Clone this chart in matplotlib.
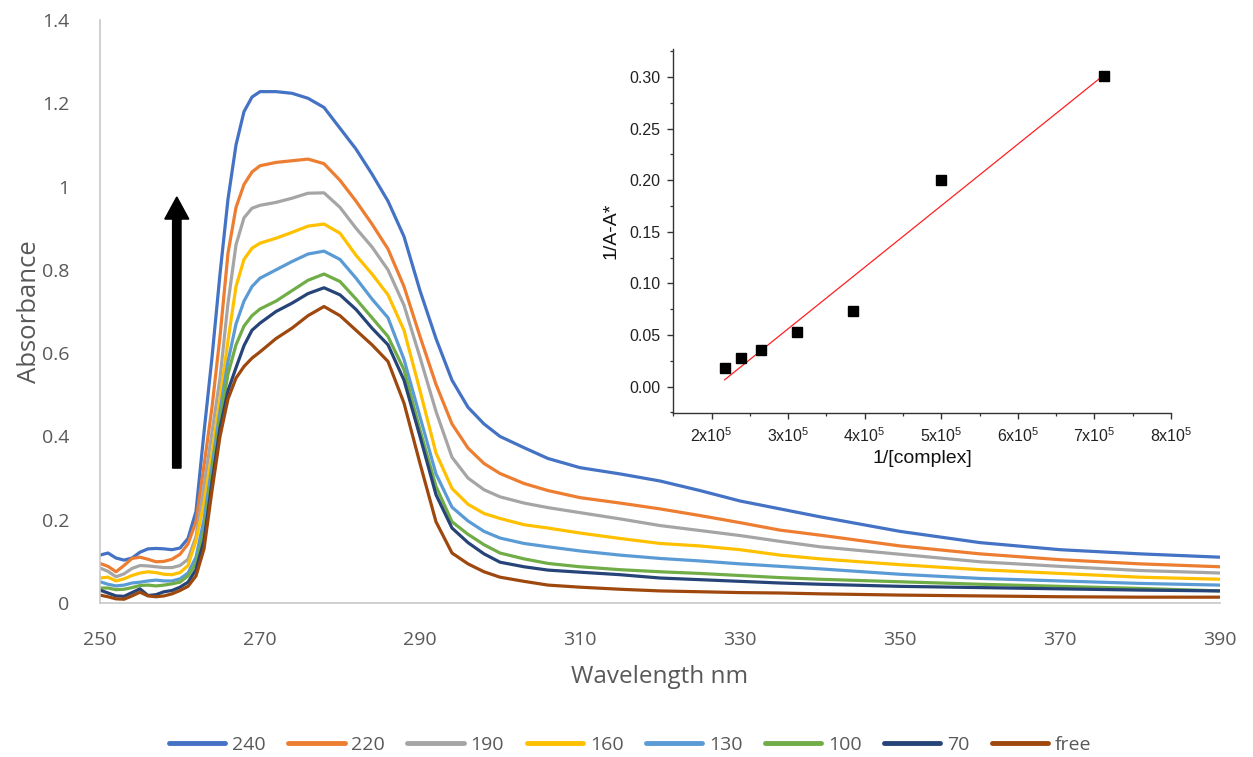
import numpy as np
import matplotlib
matplotlib.use("Agg")
import matplotlib.pyplot as plt
from matplotlib.ticker import MultipleLocator, FixedLocator

plt.rcParams['mathtext.fontset'] = 'custom'
plt.rcParams['mathtext.rm'] = 'Liberation Sans'
plt.rcParams['mathtext.it'] = 'Liberation Sans:italic'

# ---------------- main spectra data ----------------
wavelength = [250, 251, 252, 253, 254, 255, 256, 257, 258, 259, 260, 261, 262, 263, 264, 265, 266, 267,
              268, 269, 270, 272, 274, 276, 278, 280, 282, 284, 286, 288, 290, 292, 294, 296, 298, 300,
              303, 306, 310, 315, 320, 325, 330, 335, 340, 350, 360, 370, 380, 390]

abs_240 = [.115, .12, .108, .103, .108, .122, .13, .131, .13, .128, .132, .155, .22, .41, .59, .79, .97, 1.10,
           1.18, 1.215, 1.228, 1.228, 1.224, 1.212, 1.19, 1.14, 1.09, 1.03, .965, .88, .75, .635, .535, .47, .43, .40,
           .373, .347, .325, .31, .293, .27, .245, .226, .207, .172, .145, .128, .118, .11]
abs_220 = [.095, .088, .075, .09, .107, .11, .105, .099, .10, .105, .117, .142, .195, .33, .47, .64, .84, .95,
           1.005, 1.035, 1.05, 1.058, 1.062, 1.066, 1.055, 1.015, .965, .91, .85, .76, .64, .525, .43, .372, .335, .311,
           .287, .27, .253, .24, .226, .21, .193, .175, .163, .137, .118, .104, .094, .087]
abs_190 = [.084, .076, .063, .07, .083, .09, .089, .087, .085, .085, .09, .105, .16, .28, .41, .54, .72, .86,
           .925, .948, .955, .962, .972, .984, .985, .95, .90, .855, .80, .715, .59, .46, .35, .30, .272, .255,
           .24, .229, .217, .202, .186, .174, .162, .148, .135, .117, .099, .088, .078, .072]
abs_160 = [.06, .062, .053, .058, .066, .072, .075, .073, .069, .068, .073, .09, .15, .24, .36, .49, .63, .76,
           .825, .852, .864, .876, .89, .905, .91, .888, .835, .79, .74, .655, .51, .36, .275, .237, .215, .203,
           .188, .18, .168, .155, .143, .137, .128, .115, .106, .092, .08, .071, .062, .057]
abs_130 = [.051, .045, .041, .043, .048, .05, .053, .055, .053, .053, .058, .072, .11, .20, .33, .46, .58, .67,
           .725, .76, .78, .80, .82, .838, .845, .825, .78, .73, .685, .585, .447, .31, .23, .197, .172, .156,
           .143, .135, .125, .115, .107, .101, .094, .088, .082, .069, .059, .053, .047, .043]
abs_100 = [.036, .036, .032, .033, .037, .042, .043, .041, .043, .046, .05, .065, .095, .17, .31, .44, .55, .62,
           .665, .69, .706, .725, .75, .775, .79, .772, .73, .685, .64, .56, .415, .28, .195, .165, .14, .12,
           .106, .095, .087, .08, .075, .071, .066, .061, .057, .051, .045, .04, .035, .029]
abs_70 = [.031, .024, .017, .016, .025, .034, .018, .02, .027, .03, .038, .05, .08, .15, .29, .42, .51, .565,
          .618, .655, .672, .70, .72, .743, .757, .74, .705, .66, .62, .535, .40, .26, .18, .145, .118, .098,
          .087, .079, .074, .068, .06, .056, .052, .048, .045, .04, .037, .034, .031, .029]
abs_free = [.019, .015, .01, .009, .017, .026, .017, .015, .017, .022, .03, .04, .065, .13, .27, .40, .49, .54,
            .568, .588, .603, .635, .66, .69, .712, .69, .655, .62, .58, .48, .335, .195, .12, .094, .075, .062,
            .052, .043, .038, .033, .029, .027, .025, .024, .022, .019, .017, .015, .014, .014]

series_labels = ['240', '220', '190', '160', '130', '100', '70', 'free']
series_colors = ['#4472C4', '#ED7D31', '#A5A5A5', '#FFC000', '#5B9BD5', '#70AD47', '#264478', '#9E480E']
series_values = [abs_240, abs_220, abs_190, abs_160, abs_130, abs_100, abs_70, abs_free]

x_ticks = [250, 270, 290, 310, 330, 350, 370, 390]
y_ticks = [0, 0.2, 0.4, 0.6, 0.8, 1.0, 1.2, 1.4]
y_tick_labels = ['0', '0.2', '0.4', '0.6', '0.8', '1', '1.2', '1.4']

# ---------------- inset (Benesi-Hildebrand) data ----------------
inv_complex = [2.17e5, 2.39e5, 2.65e5, 3.12e5, 3.85e5, 5.00e5, 7.13e5]
inv_dA = [0.018, 0.028, 0.036, 0.053, 0.073, 0.200, 0.301]
inset_x_ticks = [2e5, 3e5, 4e5, 5e5, 6e5, 7e5, 8e5]
inset_x_labels = ['2x10$^{5}$', '3x10$^{5}$', '4x10$^{5}$', '5x10$^{5}$', '6x10$^{5}$', '7x10$^{5}$', '8x10$^{5}$']
inset_y_ticks = [0.0, 0.05, 0.10, 0.15, 0.20, 0.25, 0.30]
inset_y_labels = ['0.00', '0.05', '0.10', '0.15', '0.20', '0.25', '0.30']

# ---------------- figure ----------------
W, H = 1253, 757
fig = plt.figure(figsize=(W / 100, H / 100), dpi=100)
main_font = 'Open Sans'
grey_txt = '#595959'

ax = fig.add_axes([100 / W, 1 - 603 / H, 1120 / W, 583 / H])
for lab, col, vals in zip(series_labels, series_colors, series_values):
    ax.plot(wavelength, vals, color=col, lw=2.3, label=lab, solid_capstyle='round', solid_joinstyle='round')

ax.set_xlim(250, 390)
ax.set_ylim(0, 1.4)
ax.set_xticks(x_ticks)
ax.set_xticklabels([str(t) for t in x_ticks], family=main_font, fontsize=14, color=grey_txt)
ax.set_yticks(y_ticks)
ax.set_yticklabels(y_tick_labels, family=main_font, fontsize=14, color=grey_txt)
ax.tick_params(axis='both', length=0)
ax.tick_params(axis='y', pad=22)
ax.tick_params(axis='x', pad=20)
for s in ['top', 'right']:
    ax.spines[s].set_visible(False)
for s in ['left', 'bottom']:
    ax.spines[s].set_color('#C8C8C8')
    ax.spines[s].set_linewidth(1.2)

ax.set_xlabel('Wavelength nm', family=main_font, fontsize=17.5, color=grey_txt, labelpad=12)
ax.set_ylabel('Absorbance', family=main_font, fontsize=18.5, color=grey_txt, labelpad=0)

# arrow
ax.arrow(259.6, 0.324, 0, 0.975 - 0.324, width=1.05, head_width=3.0, head_length=0.053,
         length_includes_head=True, color='black', zorder=5)

leg = fig.legend(loc='center', bbox_to_anchor=(0.503, 1 - 745 / H), ncol=8, frameon=False,
                 prop={'family': main_font, 'size': 14}, handlelength=2.9, handletextpad=0.35,
                 columnspacing=1.15)
for t in leg.get_texts():
    t.set_color(grey_txt)
for h in leg.get_lines():
    h.set_linewidth(3.5)

# ---------------- inset ----------------
ins = fig.add_axes([673.3 / W, 1 - 412.7 / H, (1171 - 673.3) / W, (412.7 - 49) / H])
ins.set_xlim(1.5e5, 8e5)
ins.set_ylim(-0.0252, 0.327)
coef = np.polyfit(inv_complex, inv_dA, 1)
fit_x = np.array([min(inv_complex), max(inv_complex)])
ins.plot(fit_x, np.polyval(coef, fit_x), color='#FF2020', lw=0.9)
ins.plot(inv_complex, inv_dA, 's', color='black', markersize=6.5, zorder=4)

inset_font = 'Liberation Sans'
ins.xaxis.set_major_locator(FixedLocator(inset_x_ticks))
ins.set_xticklabels(inset_x_labels, family=inset_font, fontsize=11.5, color='#222222')
ins.xaxis.set_minor_locator(MultipleLocator(0.5e5))
ins.yaxis.set_major_locator(FixedLocator(inset_y_ticks))
ins.set_yticklabels(inset_y_labels, family=inset_font, fontsize=11.5, color='#222222')
ins.yaxis.set_minor_locator(MultipleLocator(0.025))
ins.tick_params(which='major', direction='out', length=4.5, width=1.0, color='#333333', pad=5)
ins.tick_params(which='minor', direction='out', length=2.5, width=0.9, color='#333333')
for s in ['top', 'right']:
    ins.spines[s].set_visible(False)
for s in ['left', 'bottom']:
    ins.spines[s].set_color('#333333')
    ins.spines[s].set_linewidth(1.0)
ins.set_xlabel('1/[complex]', family=inset_font, fontsize=14, color='#111111', labelpad=4)
ins.set_ylabel('1/A-A*', family=inset_font, fontsize=14, color='#111111', labelpad=7)
ins.patch.set_alpha(0)

fig.savefig('out.png', dpi=100)
